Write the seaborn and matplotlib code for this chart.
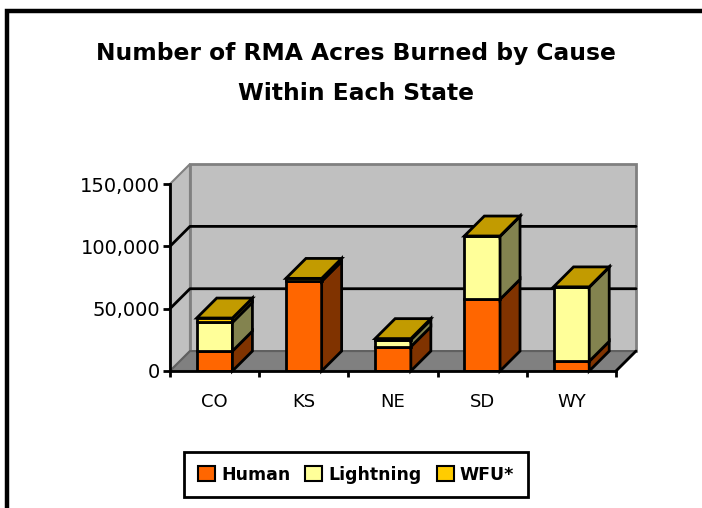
import pandas as pd
import matplotlib.pyplot as plt
import seaborn as sns
from matplotlib.patches import Polygon, Rectangle

# Values
states = ['CO', 'KS', 'NE', 'SD', 'WY']
human = [16000, 72000, 19500, 57500, 7800]
lightning = [23000, 300, 5500, 50500, 59400]
wfu = [3500, 2000, 1000, 300, 300]
y_ticks = [0, 50000, 100000, 150000]

sns.set_style('white')
plt.rcParams['font.family'] = ['DejaVu Sans']
plt.rcParams['text.color'] = 'black'
plt.rcParams['xtick.labelcolor'] = 'black'
plt.rcParams['ytick.labelcolor'] = 'black'

df = pd.DataFrame({'state': states, 'Human': human, 'Lightning': lightning, 'WFU*': wfu})

front = {'Human': '#FF6600', 'Lightning': '#FFFF99', 'WFU*': '#FFCC00'}
side = {'Human': '#803300', 'Lightning': '#83834F', 'WFU*': '#806600'}
top_color = '#C29B00'

fig = plt.figure(figsize=(7.02, 5.08), dpi=100)
ax = fig.add_axes([170 / 702, 1 - 371 / 508, 446 / 702, 187 / 508])
ax.set_facecolor('none')

y_max = y_ticks[-1]
x0, x1 = -0.5, len(states) - 0.5
depth_x = 0.224
depth_y = 16000
bar_w = 0.4

# Walls and floor of the 3D box
ax.add_patch(Polygon([(x0, 0), (x0 + depth_x, depth_y), (x0 + depth_x, y_max + depth_y), (x0, y_max)],
                     fc='#C0C0C0', ec='#808080', lw=1.5, clip_on=False, zorder=0.5))
ax.add_patch(Rectangle((x0 + depth_x, depth_y), x1 - x0, y_max, fc='#C0C0C0', ec='#808080', lw=2,
                       clip_on=False, zorder=0.5))
ax.add_patch(Polygon([(x0, 0), (x1, 0), (x1 + depth_x, depth_y), (x0 + depth_x, depth_y)],
                     fc='#808080', ec='#606060', lw=1.5, clip_on=False, zorder=0.6))
ax.plot([x1, x1 + depth_x], [0, depth_y], color='black', lw=2, clip_on=False, zorder=0.7)

# Gridlines run along the back wall and down the left wall
for v in y_ticks[1:-1]:
    ax.plot([x0, x0 + depth_x, x1 + depth_x], [v, v + depth_y, v + depth_y], color='black', lw=2,
            clip_on=False, zorder=0.7)

# Front faces, stacked
bottom = [0] * len(states)
for name in ['Human', 'Lightning', 'WFU*']:
    sns.barplot(data=df, x='state', y=name, color=front[name], saturation=1, width=bar_w, bottom=bottom,
                edgecolor='black', linewidth=2, label=name, legend=False, zorder=3, ax=ax)
    # side faces
    for i, v in enumerate(df[name]):
        xr = i + bar_w / 2
        b = bottom[i]
        ax.add_patch(Polygon([(xr, b), (xr + depth_x, b + depth_y), (xr + depth_x, b + v + depth_y), (xr, b + v)],
                             fc=side[name], ec='black', lw=2, joinstyle='miter', clip_on=False, zorder=3))
    bottom = [b + v for b, v in zip(bottom, df[name])]

# Top faces
for i, t in enumerate(bottom):
    xl = i - bar_w / 2
    ax.add_patch(Polygon([(xl, t), (xl + bar_w, t), (xl + bar_w + depth_x, t + depth_y), (xl + depth_x, t + depth_y)],
                         fc=top_color, ec='black', lw=2, joinstyle='miter', clip_on=False, zorder=3))

ax.set_xlim(x0, x1)
ax.set_ylim(0, y_max)
ax.set_xlabel('')
ax.set_ylabel('')
ax.set_yticks(y_ticks)
ax.set_yticklabels([f'{v:,}' for v in y_ticks], fontsize=14)
ax.set_xticks(range(len(states)))
ax.set_xticklabels(states, fontsize=13)
ax.set_xticks([x0 + i for i in range(len(states) + 1)], minor=True)
ax.tick_params(axis='x', which='major', length=0, pad=16)
ax.tick_params(axis='x', which='minor', length=4, width=2, color='black', bottom=True)
ax.tick_params(axis='y', length=5, width=2, color='black', left=True, pad=2)

sns.despine(ax=ax, top=True, right=True)
for s in ['left', 'bottom']:
    ax.spines[s].set_color('black')
    ax.spines[s].set_linewidth(2)
    ax.spines[s].set_zorder(5)

fig.text(356 / 702, 1 - 73.5 / 508, 'Number of RMA Acres Burned by Cause\nWithin Each State', ha='center', va='center',
         fontsize=16.8, fontweight='bold', linespacing=1.95, color='black')

# Outer chart frame runs off the right and bottom edges
fig.add_artist(Rectangle((7 / 702, -0.05), 1.05, 1.05 - 11 / 508, transform=fig.transFigure, fc='none',
                         ec='black', lw=3.2))

handles, labels = ax.get_legend_handles_labels()
leg = fig.legend(handles, labels, ncol=3, loc='center', bbox_to_anchor=(356 / 702, 1 - 474.5 / 508),
                 prop={'size': 12.5, 'weight': 'bold'}, frameon=True, fancybox=False, framealpha=1,
                 edgecolor='black', handlelength=1, handleheight=1, handletextpad=0.35, columnspacing=0.85,
                 borderpad=0.78, borderaxespad=0)
leg.get_frame().set_linewidth(2)
for p in leg.get_patches():
    p.set_linewidth(1.5)

plt.savefig('out.png', dpi=100)
plt.close()
